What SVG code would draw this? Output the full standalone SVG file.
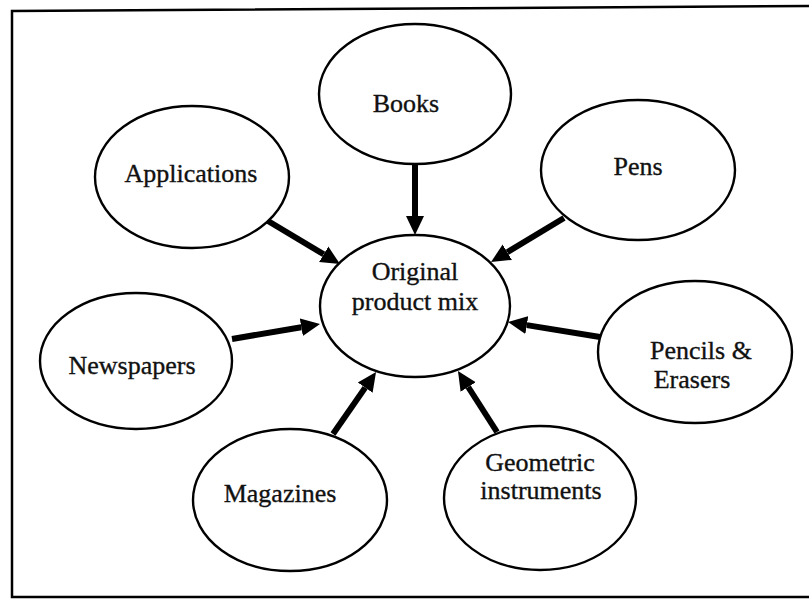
<svg xmlns="http://www.w3.org/2000/svg" width="809" height="608" viewBox="0 0 809 608">
<style>
.node ellipse{fill:#fff;stroke:#000;stroke-width:2.4}
.node text{font-family:"Liberation Serif","Times New Roman",serif;font-size:26px;fill:#111;stroke:#111;stroke-width:0.35;text-anchor:middle}
.conn line{stroke:#000;stroke-width:6;marker-end:url(#ah)}
</style>
<defs>
<marker id="ah" viewBox="0 -10 22 20" markerWidth="22" markerHeight="20" refX="0" refY="0" orient="auto" markerUnits="userSpaceOnUse">
<path d="M0,-9 L19,0 L0,9 z" fill="#000"/>
</marker>
</defs>
<rect width="809" height="608" fill="#fff"/>
<path d="M811,6 L12,11 L12,597 L811,597" fill="none" stroke="#000" stroke-width="2.5"/>
<g class="conn">
<line x1="268" y1="221" x2="323.7" y2="254.3"/>
<line x1="415" y1="164" x2="415" y2="216"/>
<line x1="564" y1="218" x2="507.3" y2="252.2"/>
<line x1="232" y1="339" x2="301.3" y2="327.2"/>
<line x1="333" y1="434" x2="365.2" y2="387.6"/>
<line x1="497" y1="432" x2="468.2" y2="387"/>
<line x1="600" y1="337" x2="526.8" y2="325.1"/>
</g>
<g id="books" class="node"><ellipse cx="415" cy="94" rx="96" ry="70"/><text x="406" y="112">Books</text></g>
<g id="applications" class="node"><ellipse cx="192" cy="177" rx="97" ry="71"/><text x="191" y="182">Applications</text></g>
<g id="pens" class="node"><ellipse cx="638" cy="170" rx="97" ry="70"/><text x="638" y="175">Pens</text></g>
<g id="original" class="node"><ellipse cx="415" cy="306" rx="95" ry="71"/><text x="415" y="280">Original</text><text x="415" y="310">product mix</text></g>
<g id="newspapers" class="node"><ellipse cx="136" cy="361" rx="96" ry="68"/><text x="132" y="374">Newspapers</text></g>
<g id="pencils" class="node"><ellipse cx="695" cy="352" rx="97" ry="71"/><text x="701" y="359">Pencils &amp;</text><text x="692" y="388">Erasers</text></g>
<g id="magazines" class="node"><ellipse cx="290" cy="500" rx="97" ry="71"/><text x="280" y="502">Magazines</text></g>
<g id="geometric" class="node"><ellipse cx="540" cy="498" rx="96" ry="72"/><text x="540" y="471">Geometric</text><text x="541" y="499">instruments</text></g>
</svg>
